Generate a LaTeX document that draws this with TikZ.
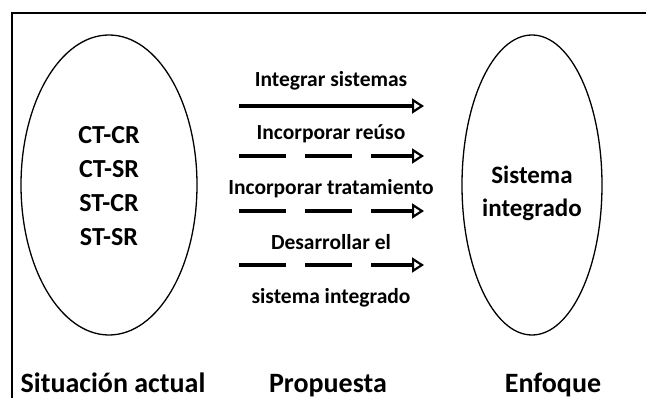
\documentclass[tikz,border=0pt]{standalone}
\usepackage{fontspec}
\setmainfont{Carlito}
\usetikzlibrary{positioning, shapes.geometric, arrows.meta}
\tikzset{>=latex}
\tikzset{
  oval/.style={draw, ellipse, line width=1.3pt, inner sep=0},
  ovaltext/.style={align=center, inner sep=0, font=\bfseries\fontsize{26}{34}\selectfont},
  steplabel/.style={anchor=base, font=\bfseries\fontsize{21.5}{24}\selectfont},
  coltitle/.style={anchor=base, font=\bfseries\fontsize{28}{30}\selectfont},
  proparrow/.style={line width=4pt, -{Triangle[open, length=12pt, width=15pt, line width=2.2pt]}},
  propdashed/.style={proparrow, dash pattern=on 47pt off 19pt},
}

\begin{document}
\begin{tikzpicture}[x=1pt, y=-1pt]
  \useasboundingbox (0,0) rectangle (646,398);
  \draw[line width=2pt] (12,398) -- (12,13) -- (646,13);

  \node[oval, minimum width=176pt, minimum height=300pt] (actual) at (109,185) {};
  \node[oval, minimum width=140pt, minimum height=300pt] (enfoque) at (532,185) {};
  \node[ovaltext] (casos) at (109,186) {CT-CR\\CT-SR\\ST-CR\\ST-SR};
  \node[ovaltext, font=\bfseries\fontsize{25}{33}\selectfont] (sistema) at (532,193) {Sistema\\integrado};

  \node[steplabel] (l1) at (331,87) {Integrar sistemas};
  \node[steplabel] (l2) at (331,140) {Incorporar re\'uso};
  \node[steplabel] (l3) at (331,195) {Incorporar tratamiento};
  \node[steplabel] (l4) at (331,250) {Desarrollar el};
  \node[steplabel] (l5) at (331,304) {sistema integrado};

  \coordinate (s1) at (239,106); \coordinate (e1) at (424,106);
  \coordinate (s2) at (239,156); \coordinate (e2) at (424,156);
  \coordinate (s3) at (239,211); \coordinate (e3) at (424,211);
  \coordinate (s4) at (239,265); \coordinate (e4) at (424,265);

  \draw[proparrow] (s1) -- (e1);
  \draw[propdashed] (s2) -- (e2);
  \draw[propdashed] (s3) -- (e3);
  \draw[propdashed] (s4) -- (e4);

  \node[coltitle] (t1) at (113,392) {Situaci\'on actual};
  \node[coltitle] (t2) at (328,392) {Propuesta};
  \node[coltitle] (t3) at (553,392) {Enfoque};
\end{tikzpicture}
\end{document}
